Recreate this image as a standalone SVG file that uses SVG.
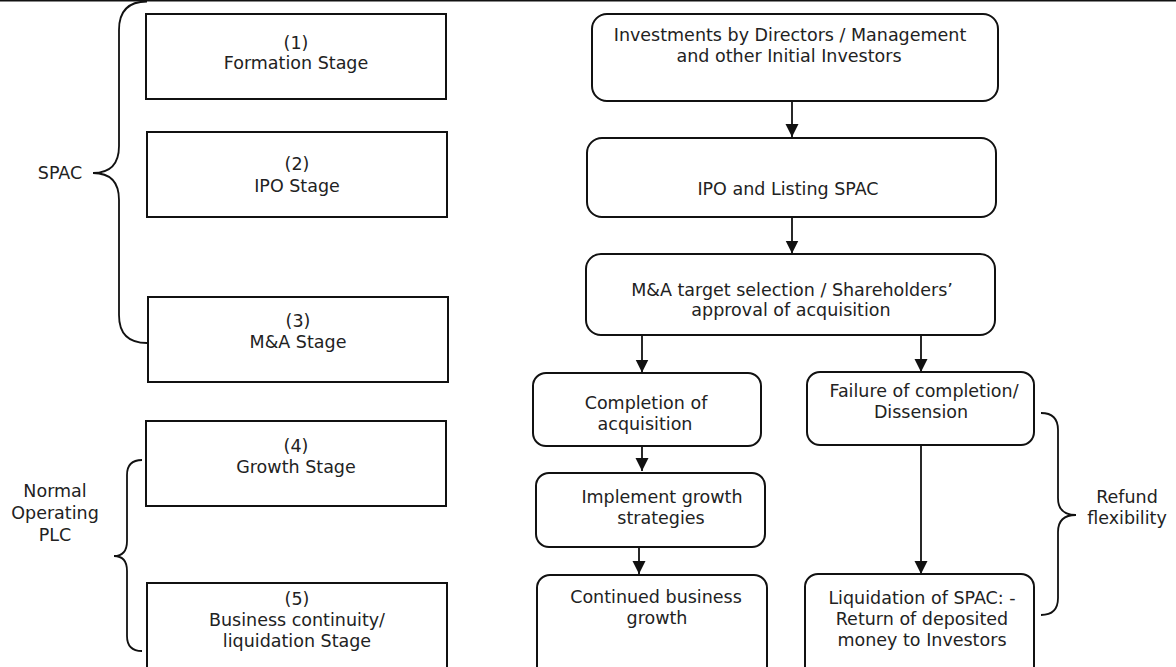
<svg xmlns="http://www.w3.org/2000/svg" width="1176" height="667" viewBox="0 0 1176 667">
<style>
  .box{fill:#fff;stroke:#111;stroke-width:2}
  .brace{fill:none;stroke:#111;stroke-width:1.8}
  .conn{stroke:#111;stroke-width:1.8;fill:none;marker-end:url(#arr)}
  text{font-family:"DejaVu Sans","Verdana","Liberation Sans",sans-serif;font-size:17.5px;fill:#222;text-anchor:middle}
</style>
<defs>
  <marker id="arr" markerUnits="userSpaceOnUse" markerWidth="14" markerHeight="14" refX="13" refY="6.5" orient="auto">
    <path d="M0,0 L13,6.5 L0,13 z" fill="#111"/>
  </marker>
</defs>
<rect width="1176" height="667" fill="#fff"/>
<line x1="0" y1="0.8" x2="1176" y2="0.8" stroke="#111" stroke-width="1.6"/>

<g id="brace-spac">
  <path class="brace" d="M147,1.5 Q119,1.5 119,30 L119,146 Q119,173 93,173 Q119,173 119,200 L119,315 Q119,343 147,343"/>
  <text x="60" y="179">SPAC</text>
</g>
<g id="brace-plc">
  <path class="brace" d="M142,460 Q127,460 127,475 L127,541 Q127,556 114,556 Q127,556 127,571 L127,636 Q127,651 142,651"/>
  <text x="55" y="497">Normal</text>
  <text x="55" y="519">Operating</text>
  <text x="55" y="541">PLC</text>
</g>
<g id="brace-refund">
  <path class="brace" d="M1041,413 Q1058,413 1058,430 L1058,498 Q1058,515 1076,515 Q1058,515 1058,532 L1058,598 Q1058,615 1041,615"/>
  <text x="1127" y="503">Refund</text>
  <text x="1127" y="524">flexibility</text>
</g>

<g id="stage1">
  <rect class="box" x="146" y="14" width="300" height="85"/>
  <text x="296" y="48.5">(1)</text>
  <text x="296" y="69">Formation Stage</text>
</g>
<g id="stage2">
  <rect class="box" x="147" y="132" width="300" height="85"/>
  <text x="297" y="170">(2)</text>
  <text x="297" y="191.5">IPO Stage</text>
</g>
<g id="stage3">
  <rect class="box" x="148" y="297" width="300" height="85"/>
  <text x="298" y="327">(3)</text>
  <text x="298" y="348">M&amp;A Stage</text>
</g>
<g id="stage4">
  <rect class="box" x="146" y="421" width="300" height="85"/>
  <text x="296" y="452">(4)</text>
  <text x="296" y="472.5">Growth Stage</text>
</g>
<g id="stage5">
  <rect class="box" x="147" y="583" width="300" height="100"/>
  <text x="297" y="605">(5)</text>
  <text x="297" y="625.5">Business continuity/</text>
  <text x="297" y="646.5">liquidation Stage</text>
</g>

<g id="invest">
  <rect class="box" x="592" y="14" width="406" height="87" rx="15"/>
  <text x="790" y="40.5">Investments by Directors / Management</text>
  <text x="789" y="61.5">and other Initial Investors</text>
</g>
<g id="ipo">
  <rect class="box" x="587" y="138" width="409" height="79" rx="15"/>
  <text x="788" y="195">IPO and Listing SPAC</text>
</g>
<g id="mna">
  <rect class="box" x="586" y="254" width="409" height="81" rx="15"/>
  <text x="792" y="295.5">M&amp;A target selection / Shareholders’</text>
  <text x="791" y="316">approval of acquisition</text>
</g>
<g id="completion">
  <rect class="box" x="533" y="373" width="228" height="73" rx="13"/>
  <text x="646" y="409">Completion of</text>
  <text x="645" y="429.5">acquisition</text>
</g>
<g id="failure">
  <rect class="box" x="807" y="372" width="227" height="73" rx="13"/>
  <text x="924" y="397">Failure of completion/</text>
  <text x="921" y="417.5">Dissension</text>
</g>
<g id="implement">
  <rect class="box" x="536" y="473" width="229" height="74" rx="13"/>
  <text x="662" y="503">Implement growth</text>
  <text x="661" y="524">strategies</text>
</g>
<g id="continued">
  <rect class="box" x="537" y="575" width="230" height="110" rx="13"/>
  <text x="656" y="602.5">Continued business</text>
  <text x="657" y="623.5">growth</text>
</g>
<g id="liquidation">
  <rect class="box" x="805" y="574" width="229" height="110" rx="13"/>
  <text x="922" y="604">Liquidation of SPAC: -</text>
  <text x="922" y="625">Return of deposited</text>
  <text x="922" y="646">money to Investors</text>
</g>

<g id="connectors">
  <line class="conn" x1="792" y1="101" x2="792" y2="137"/>
  <line class="conn" x1="792" y1="217" x2="792" y2="253.5"/>
  <line class="conn" x1="642" y1="335" x2="642" y2="372.5"/>
  <line class="conn" x1="921" y1="335" x2="921" y2="372"/>
  <line class="conn" x1="642" y1="447" x2="642" y2="471"/>
  <line class="conn" x1="639" y1="548" x2="639" y2="574"/>
  <line class="conn" x1="921" y1="445" x2="921" y2="574"/>
</g>
</svg>
